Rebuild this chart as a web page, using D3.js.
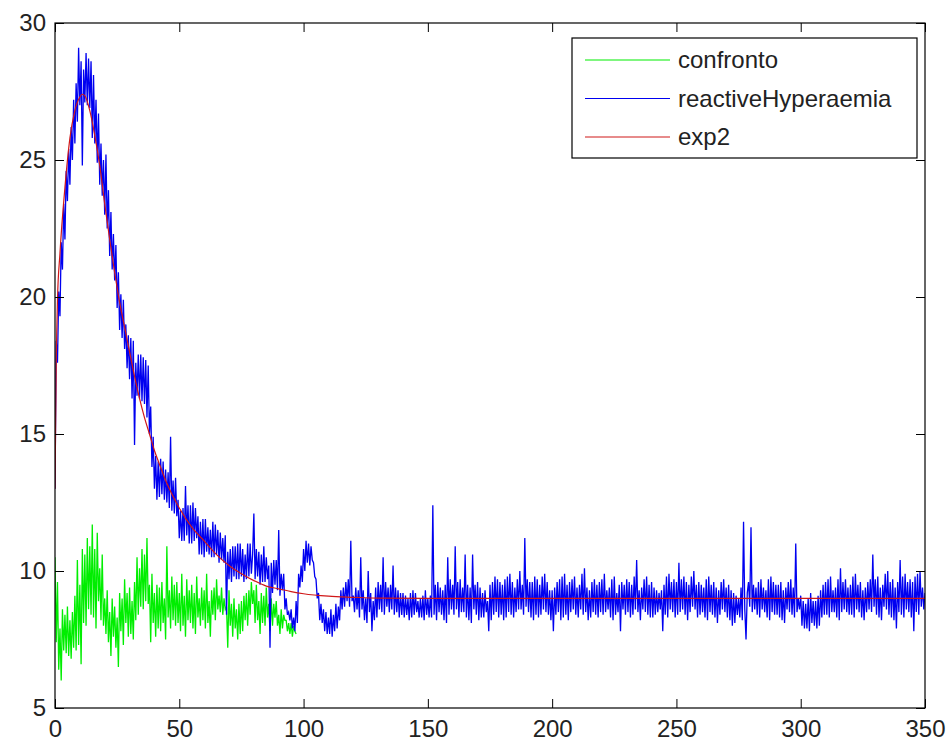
<!DOCTYPE html>
<html>
<head>
<meta charset="utf-8">
<script src="https://cdn.jsdelivr.net/npm/d3@7"></script>
<style>
  body { margin: 0; background: #fff; }
  svg text { font-family: "Liberation Sans", Arial, sans-serif; }
</style>
</head>
<body>
<div id="app"></div>
<script>
// both measured series are sampled every half unit from x = 0
let sampleStep = 0.5

// confronto
let confronto = [
  10.5, 7.4, 9.6, 6.4, 7.9, 6.0, 8.6, 7.1, 8.4, 7.0,
  8.7, 6.9, 8.2, 6.8, 8.5, 7.2, 9.1, 7.1, 10.4, 7.3,
  9.5, 6.6, 10.8, 8.1, 10.6, 8.0, 11.2, 8.6, 10.9, 8.4,
  11.7, 8.3, 10.8, 7.9, 11.4, 8.9, 10.1, 8.2, 10.6, 8.0,
  9.0, 7.7, 9.3, 7.4, 8.5, 6.9, 9.0, 7.6, 8.7, 7.2,
  8.3, 6.5, 9.2, 7.8, 9.0, 7.3, 9.7, 8.1, 9.2, 7.6,
  9.4, 7.7, 8.9, 7.5, 9.6, 8.2, 10.5, 8.4, 10.1, 8.7,
  10.8, 8.6, 10.6, 8.9, 11.2, 8.8, 9.5, 7.4, 9.9, 8.1,
  9.2, 7.6, 9.5, 7.9, 9.4, 7.8, 9.6, 8.1, 9.0, 7.5,
  10.9, 8.3, 9.3, 7.9, 9.8, 8.2, 9.5, 8.0, 9.6, 8.1,
  9.2, 7.8, 9.9, 8.0, 9.1, 7.6, 9.7, 8.2, 9.3, 8.1,
  9.5, 7.9, 9.2, 7.7, 9.8, 8.3, 9.0, 8.0, 9.4, 8.2,
  9.3, 7.9, 9.9, 8.1, 8.9, 7.6, 9.3, 8.4, 9.4, 8.2,
  9.7, 8.6, 9.1, 8.5, 9.4, 8.4, 9.0, 8.6, 8.7, 7.2,
  9.3, 8.0, 8.8, 7.6, 9.0, 7.9, 8.6, 7.5, 8.8, 7.7,
  8.9, 7.8, 9.1, 8.2, 9.2, 8.0, 9.3, 8.4, 9.6, 8.8,
  9.3, 8.1, 9.5, 8.2, 8.9, 7.7, 9.2, 8.1, 9.1, 8.0,
  9.4, 8.3, 8.8, 7.8, 9.0, 8.0, 8.8, 8.3, 8.9, 8.0,
  8.4, 7.7, 8.6, 7.9, 8.4, 8.2, 8.2, 7.8, 8.1, 7.7,
  8.1, 7.6, 8.0, 7.8, 7.7
]

// reactiveHyperaemia, x = 0 to 350
let reactive = [
  13.0, 18.4, 17.6, 20.2, 19.3, 22.0, 21.0, 23.4, 22.1, 24.6,
  23.5, 25.4, 24.1, 26.2, 25.0, 27.2, 25.6, 27.8, 26.4, 29.1,
  27.0, 28.6, 24.8, 28.3, 27.1, 28.9, 27.0, 28.7, 26.9, 28.6,
  25.8, 28.1, 25.6, 27.2, 24.9, 26.7, 24.1, 25.6, 23.7, 25.0,
  23.0, 25.2, 22.5, 23.9, 21.5, 23.1, 21.0, 22.3, 20.6, 21.9,
  19.6, 20.9, 18.8, 20.1, 18.5, 19.9, 18.1, 19.0, 17.4, 18.6,
  17.0, 18.5, 16.3, 18.4, 14.6, 17.6, 16.4, 17.9, 16.3, 17.9,
  16.2, 17.8, 16.1, 17.7, 15.6, 17.5, 15.0, 16.0, 13.8, 14.9,
  13.0, 14.2, 12.6, 14.0, 12.7, 14.1, 12.8, 14.0, 12.6, 13.7,
  12.5, 13.6, 12.3, 14.9, 12.2, 13.3, 12.1, 13.4, 12.0, 12.6,
  11.2, 12.2, 11.1, 12.3, 11.1, 13.1, 11.3, 12.4, 11.0, 12.4,
  11.0, 12.5, 11.1, 12.3, 11.2, 12.0, 10.6, 11.8, 10.6, 11.9,
  10.5, 11.9, 10.7, 11.6, 10.6, 11.5, 10.5, 11.8, 10.5, 11.7,
  10.6, 11.5, 10.3, 11.4, 10.4, 11.2, 10.3, 11.3, 8.4, 10.7,
  9.7, 10.8, 9.6, 10.9, 9.8, 10.9, 9.7, 11.0, 9.7, 11.0,
  9.8, 10.8, 9.6, 10.6, 9.7, 11.0, 9.8, 11.0, 9.9, 10.6,
  12.1, 9.7, 10.8, 9.8, 10.7, 9.5, 10.6, 9.6, 10.9, 9.6,
  10.5, 9.7, 10.2, 7.2, 10.3, 9.2, 10.4, 9.5, 10.4, 9.3,
  11.5, 9.1, 9.9, 9.3, 9.9, 8.6, 9.0, 8.4, 8.5, 8.2,
  8.6, 7.9, 8.3, 7.8, 8.9, 8.1, 9.9, 9.4, 10.2, 9.6,
  10.8, 10.0, 11.1, 10.3, 11.0, 10.2, 10.9, 10.4, 10.3, 9.8,
  9.7, 9.0, 9.2, 8.2, 8.8, 8.1, 8.6, 7.8, 8.5, 7.7,
  8.3, 7.7, 8.6, 7.6, 8.4, 7.8, 8.8, 7.9, 8.7, 8.2,
  9.3, 8.6, 9.4, 8.7, 9.6, 8.9, 9.7, 8.7, 11.1, 8.9,
  9.1, 8.5, 9.4, 8.6, 9.3, 8.3, 10.5, 8.6, 9.3, 8.2,
  9.0, 8.1, 10.0, 8.5, 9.2, 7.8, 8.9, 8.2, 9.4, 8.3,
  9.6, 8.6, 9.5, 8.5, 10.5, 8.4, 9.6, 8.7, 9.4, 8.5,
  9.5, 8.6, 10.2, 8.4, 9.4, 8.5, 9.3, 8.3, 9.2, 8.4,
  9.2, 8.3, 9.1, 8.4, 9.0, 8.2, 9.2, 8.3, 9.3, 8.4,
  9.2, 8.5, 8.9, 8.3, 9.0, 8.3, 9.1, 8.2, 9.3, 8.4,
  9.0, 8.3, 9.1, 8.3, 12.4, 8.4, 9.5, 8.2, 9.6, 8.5,
  9.4, 8.4, 9.3, 8.2, 9.5, 8.1, 10.5, 8.4, 9.7, 8.6,
  9.5, 8.4, 10.9, 8.6, 9.6, 8.3, 9.7, 8.5, 9.4, 8.5,
  10.6, 8.3, 9.5, 8.2, 9.4, 8.1, 10.6, 8.6, 9.5, 8.4,
  9.6, 8.2, 9.4, 8.3, 9.2, 8.3, 9.3, 8.5, 8.9, 7.8,
  9.5, 8.2, 9.6, 8.4, 9.8, 8.5, 9.7, 8.3, 9.6, 8.4,
  9.5, 8.2, 9.7, 8.3, 9.8, 8.5, 9.9, 8.4, 9.6, 8.3,
  9.4, 8.5, 9.7, 8.6, 10.0, 8.6, 9.5, 8.4, 11.2, 8.7,
  9.7, 8.5, 9.6, 8.3, 9.6, 8.2, 9.8, 8.4, 9.7, 8.3,
  9.5, 8.4, 9.8, 8.6, 9.9, 8.5, 9.6, 8.4, 9.3, 8.2,
  9.3, 7.8, 9.4, 8.4, 9.6, 8.5, 9.7, 8.2, 9.8, 8.3,
  9.9, 8.4, 9.5, 8.2, 9.6, 8.5, 9.7, 8.6, 9.8, 8.4,
  9.4, 8.3, 9.5, 8.6, 9.9, 8.4, 10.1, 8.5, 9.4, 8.2,
  9.3, 8.3, 9.6, 8.5, 9.7, 8.4, 9.5, 8.3, 9.6, 8.5,
  9.7, 8.4, 9.9, 8.5, 9.3, 8.6, 9.4, 8.3, 9.7, 8.2,
  9.8, 8.4, 9.2, 8.5, 9.5, 7.8, 9.6, 8.6, 9.5, 8.4,
  9.7, 8.5, 9.6, 8.3, 9.5, 8.4, 9.8, 8.6, 10.4, 8.5,
  9.3, 8.2, 9.4, 8.6, 9.7, 8.5, 9.8, 8.4, 9.5, 8.3,
  9.6, 8.3, 9.4, 8.4, 9.3, 8.5, 9.2, 8.6, 9.3, 7.8,
  9.5, 8.4, 9.8, 8.3, 9.9, 8.6, 9.6, 8.5, 9.7, 8.3,
  9.6, 8.4, 10.3, 8.5, 9.7, 8.6, 9.8, 8.4, 9.6, 8.2,
  9.5, 8.5, 9.8, 8.7, 10.0, 8.6, 9.5, 8.3, 9.6, 8.4,
  9.5, 8.5, 9.4, 8.3, 9.7, 8.2, 9.8, 8.5, 9.5, 8.4,
  9.6, 8.3, 9.4, 8.1, 9.3, 8.4, 9.6, 8.6, 9.7, 8.5,
  9.4, 8.3, 9.5, 8.2, 9.3, 8.0, 9.2, 8.1, 9.1, 8.4,
  9.0, 8.3, 9.4, 8.2, 11.8, 8.6, 7.5, 9.2, 9.6, 8.7,
  11.6, 8.5, 9.5, 8.6, 9.4, 8.4, 9.6, 8.3, 9.7, 8.6,
  9.4, 8.5, 9.3, 8.3, 9.7, 8.2, 9.8, 8.5, 9.6, 8.4,
  9.5, 8.4, 9.5, 8.3, 9.6, 8.2, 9.3, 8.1, 9.4, 8.6,
  9.6, 8.5, 9.7, 8.4, 9.4, 8.3, 11.0, 8.5, 9.0, 8.6,
  9.1, 8.0, 8.9, 7.9, 8.8, 7.9, 9.0, 7.8, 9.2, 8.1,
  8.9, 8.0, 8.9, 7.9, 9.1, 8.0, 9.3, 8.3, 9.5, 8.4,
  9.6, 8.4, 9.7, 8.3, 9.8, 8.5, 9.3, 8.5, 9.4, 8.3,
  9.7, 8.2, 10.1, 8.5, 9.6, 8.6, 9.7, 8.5, 9.4, 8.4,
  9.5, 8.4, 9.8, 8.3, 9.9, 8.6, 9.5, 8.5, 9.6, 8.3,
  9.3, 8.2, 9.4, 8.5, 9.6, 8.6, 9.7, 8.5, 10.6, 8.7,
  9.7, 8.4, 9.8, 8.3, 9.4, 8.2, 9.5, 8.7, 9.9, 8.6,
  10.0, 8.4, 9.6, 8.3, 9.7, 8.2, 9.4, 7.9, 9.6, 8.5,
  10.4, 8.4, 9.8, 8.3, 9.9, 8.6, 9.6, 8.5, 9.7, 8.3,
  9.6, 7.8, 9.8, 8.5, 9.9, 8.4, 10.0, 8.7, 9.4, 8.6,
  9.2
]

// exp2 fit, read at these x positions
let fitX = [0, 0.5, 1, 2, 4, 6, 8, 10, 11, 12, 14, 16, 18, 20, 22, 24, 26, 28, 30, 32, 34, 36, 38, 40,
  42, 45, 50, 55, 60, 65, 70, 75, 80, 85, 90, 95, 100, 110, 120, 130, 150, 200, 250, 300, 350]
let fitY = [13.0, 17.6, 19.9, 21.6, 24.0, 25.8, 26.8, 27.3, 27.4, 27.35, 26.8, 25.9, 24.8, 23.4, 22.1,
  20.9, 19.8, 18.9, 18.0, 17.1, 16.3, 15.6, 15.0, 14.4, 13.9, 13.2, 12.3, 11.6, 11.1, 10.6, 10.2,
  9.9, 9.65, 9.45, 9.35, 9.25, 9.17, 9.08, 9.04, 9.01, 9.0, 9.0, 9.0, 9.0, 9.0]

let xTicks = [0, 50, 100, 150, 200, 250, 300, 350]
let yTicks = [5, 10, 15, 20, 25, 30]

let seriesNames = ['confronto', 'reactiveHyperaemia', 'exp2']
let seriesColors = ['#00ee00', '#0000f0', '#d01818']

let width = 948
let height = 744
let plotLeft = 55, plotRight = 925, plotTop = 23, plotBottom = 708

let x = d3.scaleLinear().domain([0, 350]).range([plotLeft, plotRight])
let y = d3.scaleLinear().domain([5, 30]).range([plotBottom, plotTop])

const svg = d3.select('#app')
  .append('svg')
  .attr('width', width)
  .attr('height', height)

svg.append('clipPath')
  .attr('id', 'plotclip')
  .append('rect')
  .attr('x', plotLeft)
  .attr('y', plotTop)
  .attr('width', plotRight - plotLeft)
  .attr('height', plotBottom - plotTop)

let plot = svg.append('g')
  .attr('clip-path', 'url(#plotclip)')

let line = d3.line()
  .x(d => x(d[0]))
  .y(d => y(d[1]))

plot.append('path')
  .datum(confronto.map((v, i) => [i * sampleStep, v]))
  .attr('d', line)
  .attr('fill', 'none')
  .attr('stroke', seriesColors[0])
  .attr('stroke-width', 1.3)

plot.append('path')
  .datum(reactive.map((v, i) => [i * sampleStep, v]))
  .attr('d', line)
  .attr('fill', 'none')
  .attr('stroke', seriesColors[1])
  .attr('stroke-width', 1.3)

plot.append('path')
  .datum(fitX.map((v, i) => [v, fitY[i]]))
  .attr('d', d3.line().x(d => x(d[0])).y(d => y(d[1])).curve(d3.curveMonotoneX))
  .attr('fill', 'none')
  .attr('stroke', seriesColors[2])
  .attr('stroke-width', 1.2)

// axes, ticks pointing inward on all four sides (matlab box)
let tickLen = 9

let drawAxis = (axis, transform, labels) => {
  let g = svg.append('g')
    .attr('transform', transform)
    .call(axis)
  g.select('.domain').remove()
  g.selectAll('line').attr('stroke', '#000')
  if (labels) {
    g.selectAll('text')
      .attr('fill', '#222')
      .style('font-size', '24px')
  } else {
    g.selectAll('text').remove()
  }
  return g
}

drawAxis(d3.axisTop(x).tickValues(xTicks).tickSize(tickLen), `translate(0,${plotBottom})`, true)
  .selectAll('text')
  .attr('y', 0)
  .attr('dy', '1.2em')
drawAxis(d3.axisBottom(x).tickValues(xTicks).tickSize(tickLen), `translate(0,${plotTop})`, false)
drawAxis(d3.axisRight(y).tickValues(yTicks).tickSize(tickLen), `translate(${plotLeft},0)`, true)
  .selectAll('text')
  .attr('x', -9)
  .attr('text-anchor', 'end')
drawAxis(d3.axisLeft(y).tickValues(yTicks).tickSize(tickLen), `translate(${plotRight},0)`, false)

svg.append('rect')
  .attr('x', plotLeft)
  .attr('y', plotTop)
  .attr('width', plotRight - plotLeft)
  .attr('height', plotBottom - plotTop)
  .attr('fill', 'none')
  .attr('stroke', '#000')
  .attr('stroke-width', 1.2)

// legend
let legend = svg.append('g')
  .attr('transform', 'translate(572,38)')

legend.append('rect')
  .attr('width', 345)
  .attr('height', 120)
  .attr('fill', '#fff')
  .attr('stroke', '#000')
  .attr('stroke-width', 1.2)

let items = legend.selectAll('g.item')
  .data(seriesNames)
  .enter()
  .append('g')
  .attr('class', 'item')
  .attr('transform', (d, i) => `translate(0,${22 + i * 38.5})`)

items.append('line')
  .attr('x1', 13)
  .attr('x2', 98)
  .attr('stroke', (d, i) => seriesColors[i])
  .attr('stroke-width', 1.2)

items.append('text')
  .attr('x', 106)
  .attr('dy', '0.35em')
  .attr('fill', '#222')
  .style('font-size', '24px')
  .text(d => d)
</script>
</body>
</html>
